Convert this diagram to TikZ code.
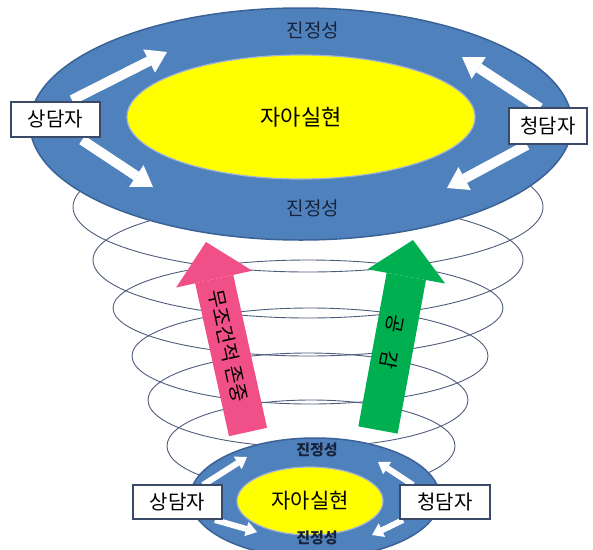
\documentclass[tikz,border=0pt]{standalone}
\usepackage{fontspec}
\setmainfont{Noto Sans CJK KR}
\usetikzlibrary{arrows.meta,shapes.geometric}
\definecolor{ringc}{HTML}{4E5C7C}
\definecolor{bluef}{HTML}{4F81BD}
\definecolor{bluel}{HTML}{3B6296}
\definecolor{yell}{HTML}{FFFF00}
\definecolor{yline}{HTML}{A3B5D3}
\definecolor{pinkf}{RGB}{240,80,135}
\definecolor{greenf}{HTML}{00B050}
\definecolor{navy}{HTML}{18233A}
\definecolor{boxline}{HTML}{3A4A66}
\begin{document}
\begin{tikzpicture}[x=1pt,y=-1pt,
  ring/.style={draw=ringc, line width=0.9pt},
  blueell/.style={ellipse, draw=bluel, fill=bluef, line width=1.5pt, inner sep=0pt},
  yellell/.style={ellipse, draw=yline, fill=yell, line width=1.2pt, inner sep=0pt},
  labbox/.style={draw=boxline, fill=white, line width=1.4pt, inner sep=0pt},
  whitearr/.style={draw=white, line width=10pt, -{Triangle[length=20pt,width=26pt,line width=0pt]}},
  smallarr/.style={draw=white, line width=6pt, -{Triangle[length=11pt,width=15pt,line width=0pt]}},
  bigtxt/.style={text=navy, font=\fontsize{19}{22}\selectfont},
  smalltxt/.style={text=navy, font=\fontsize{15}{18}\selectfont\bfseries},
  boxtxt/.style={font=\fontsize{20}{24}\selectfont},
  arrtxt/.style={font=\fontsize{20}{24}\selectfont, inner sep=0pt},
  ]
\useasboundingbox (0,0) rectangle (593,549);
\clip (0,0) rectangle (593,549);
% rings
\draw[ring] (308,207) ellipse [x radius=235, y radius=65];
\draw[ring] (308,260) ellipse [x radius=215, y radius=58];
\draw[ring] (308,308) ellipse [x radius=195, y radius=48];
\draw[ring] (310,356) ellipse [x radius=178, y radius=48];
\draw[ring] (308,400) ellipse [x radius=160, y radius=47];
\draw[ring] (311,446) ellipse [x radius=144, y radius=46];
% top ellipse
\node[blueell, minimum width=542pt, minimum height=232pt] (bigring) at (301,124) {};
\node[yellell, minimum width=348pt, minimum height=124pt, font=\fontsize{22}{26}\selectfont] (bigself) at (301,117) {자아실현};
% white arrows top
\coordinate (ula) at (72,100); \coordinate (ulb) at (167,52);
\coordinate (lla) at (82,140); \coordinate (llb) at (153,187);
\coordinate (ura) at (540,108); \coordinate (urb) at (462,57);
\coordinate (lra) at (527,145); \coordinate (lrb) at (447,188);
\draw[whitearr] (ula) -- (ulb);
\draw[whitearr] (lla) -- (llb);
\draw[whitearr] (ura) -- (urb);
\draw[whitearr] (lra) -- (lrb);
\node[labbox, boxtxt, minimum width=89pt, minimum height=35pt] (couns) at (55.5,119.5) {상담자};
\node[labbox, boxtxt, minimum width=78pt, minimum height=36pt] (client) at (548,126) {청담자};
\node[bigtxt] (gen1) at (313,30) {진정성};
\node[bigtxt] (gen2) at (313,208) {진정성};
% pink and green arrows
\coordinate (pb) at (248,432); \coordinate (ptip) at (206,242);
\draw[line width=39pt, draw=pinkf, -{Triangle[length=38pt,width=78pt,line width=0pt]}] (pb) -- (ptip);
\node[arrtxt, rotate=-77.5] (pinktxt) at (228,346) {무조건적 존중};
\coordinate (gb) at (378,430); \coordinate (gtip) at (413,240);
\draw[line width=40pt, draw=greenf, -{Triangle[length=37pt,width=79pt,line width=0pt]}] (gb) -- (gtip);
\node[arrtxt, rotate=-100.4] (greentxt) at (392,342) {공\hspace{0.9em}감};
% bottom ellipse
\node[blueell, minimum width=250pt, minimum height=120pt] (smallring) at (315,498) {};
\node[yellell, minimum width=146pt, minimum height=68pt, font=\fontsize{21}{25}\selectfont] (smallself) at (310,501) {자아실현};
\coordinate (sula) at (203,485); \coordinate (sulb) at (247,457);
\coordinate (slla) at (215,520); \coordinate (sllb) at (257,532);
\coordinate (sura) at (413,485); \coordinate (surb) at (378,462);
\coordinate (slra) at (403,520); \coordinate (slrb) at (372,535);
\draw[smallarr] (sula) -- (sulb);
\draw[smallarr] (slla) -- (sllb);
\draw[smallarr] (sura) -- (surb);
\draw[smallarr] (slra) -- (slrb);
\node[labbox, boxtxt, minimum width=89pt, minimum height=34pt] (scouns) at (177.5,502) {상담자};
\node[labbox, boxtxt, minimum width=90pt, minimum height=34pt] (sclient) at (445,502) {청담자};
\node[smalltxt] (sgen1) at (317,450) {진정성};
\node[smalltxt] (sgen2) at (317,538) {진정성};
\end{tikzpicture}
\end{document}
